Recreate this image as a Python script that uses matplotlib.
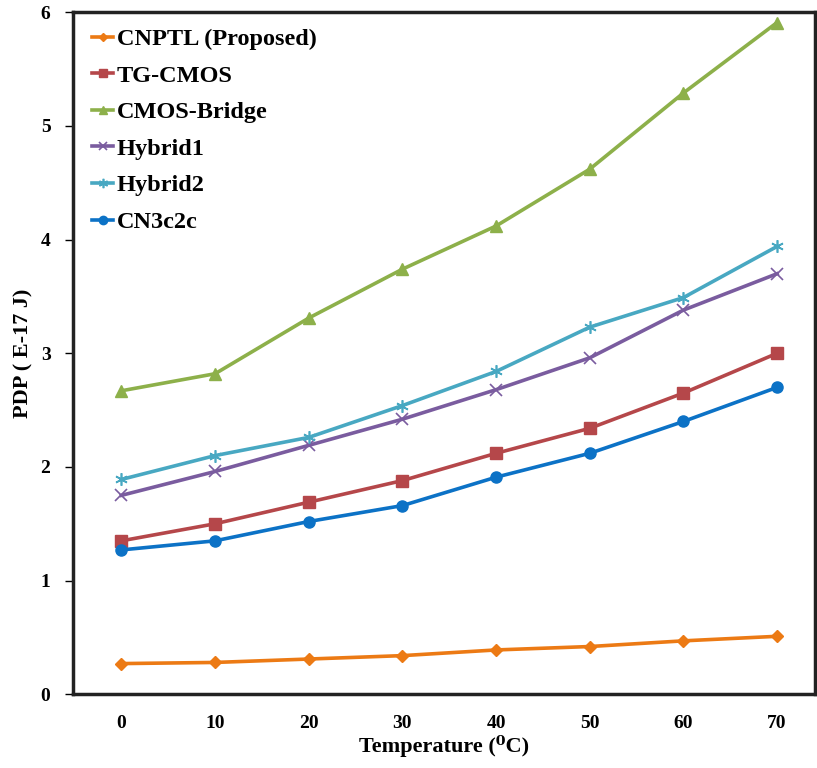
import matplotlib.pyplot as plt

temps = [0, 10, 20, 30, 40, 50, 60, 70]

cnptl = [0.27, 0.28, 0.31, 0.34, 0.39, 0.42, 0.47, 0.51]
tg_cmos = [1.35, 1.50, 1.69, 1.88, 2.12, 2.34, 2.65, 3.00]
cmos_bridge = [2.67, 2.82, 3.31, 3.74, 4.12, 4.62, 5.29, 5.91]
hybrid1 = [1.75, 1.96, 2.19, 2.42, 2.68, 2.96, 3.38, 3.70]
hybrid2 = [1.89, 2.10, 2.26, 2.54, 2.84, 3.23, 3.49, 3.94]
cn3c2c = [1.27, 1.35, 1.52, 1.66, 1.91, 2.12, 2.40, 2.70]

series_names = ["CNPTL (Proposed)", "TG-CMOS", "CMOS-Bridge", "Hybrid1", "Hybrid2", "CN3c2c"]

plt.rcParams['font.family'] = ['Liberation Serif', 'DejaVu Serif']
plt.rcParams['font.weight'] = 'bold'

fig = plt.figure(figsize=(8.17, 7.68), dpi=100)
ax = fig.add_axes([0.089, 0.096, 0.908, 0.888])

# series drawn one by one, Excel-like styling
ax.plot(temps, cnptl, color='#EC7A14', lw=2.6, marker='D', ms=6, label=series_names[0])
ax.plot(temps, tg_cmos, color='#B5474A', lw=2.6, marker='s', ms=8, label=series_names[1])
ax.plot(temps, cmos_bridge, color='#8DB04A', lw=2.6, marker='^', ms=8, label=series_names[2])
ax.plot(temps, hybrid1, color='#7A5C9F', lw=2.6, marker='x', ms=8, mew=1.2, label=series_names[3])
ax.plot(temps, hybrid2, color='#48A8C2', lw=2.6, marker=(6, 2, 0), ms=9, mew=1.2, label=series_names[4])
ax.plot(temps, cn3c2c, color='#0C72C6', lw=2.6, marker='o', ms=8, label=series_names[5])

ax.set_xlim(-5.2, 74)
ax.set_ylim(0, 6)
ax.set_xticks(temps)
ax.set_yticks(range(0, 7))
ax.tick_params(axis='x', length=0, pad=15, labelsize=14)
ax.tick_params(axis='y', length=6, width=1, pad=10, labelsize=14)

for s in ax.spines.values():
    s.set_linewidth(2.5)
    s.set_color('#222222')

ax.set_xlabel("Temperature (\u2070C)", fontsize=16, fontweight='bold', labelpad=2)
ax.set_ylabel("PDP ( E-17 J)", fontsize=16, fontweight='bold', labelpad=5)

ax.legend(loc='upper left', bbox_to_anchor=(0.005, 1.0), frameon=False,
          prop={'size': 17.5, 'weight': 'bold'}, handlelength=0.85,
          handletextpad=0.15, labelspacing=0.6, markerscale=0.75,
          borderaxespad=0.25)

fig.savefig("out.png", dpi=100)
